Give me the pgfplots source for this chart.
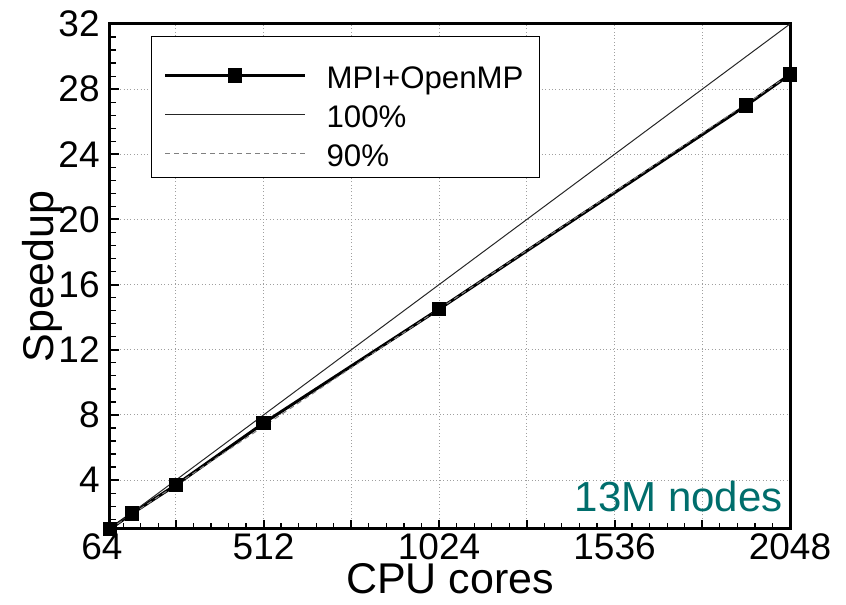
\documentclass[border=0pt]{standalone}
\usepackage{pgfplots}
\pgfplotsset{compat=1.18}
\usepackage{fontspec}
\setmainfont{Liberation Sans}
\definecolor{annot}{RGB}{0,110,108}
\pgfplotsset{
  long legend/.style={legend image code/.code={\draw[mark repeat=2,mark phase=2,##1] plot coordinates {(0pt,0pt) (35pt,0pt) (70pt,0pt)};}},
  tall legend/.style={legend image code/.code={\path[draw=none,fill=none] (0pt,0pt) -- (0pt,17.5pt);
    \draw[mark repeat=2,mark phase=2,##1] plot coordinates {(0pt,0pt) (35pt,0pt) (70pt,0pt)};}},
}
\begin{document}
\begin{tikzpicture}
\begin{axis}[
  at={(0pt,0pt)}, anchor=south west,
  scale only axis, width=340pt, height=252.5pt,
  xmin=64, xmax=2048, ymin=1, ymax=32,
  xtick={64,256,512,768,1024,1280,1536,1792,2048},
  xticklabels={64\hspace*{8pt},,512,,1024,,1536,,2048},
  minor xtick={102.4,153.6,204.8,307.2,358.4,409.6,460.8,563.2,614.4,665.6,716.8,819.2,870.4,921.6,972.8,1075.2,1126.4,1177.6,1228.8,1331.2,1382.4,1433.6,1484.8,1587.2,1638.4,1689.6,1740.8,1843.2,1894.4,1945.6,1996.8},
  ytick={4,8,12,16,20,24,28,32},
  yticklabels={4,8,12,16,20,24,28,32},
  minor ytick={1.6,2.4,3.2,4.8,5.6,6.4,7.2,8.8,9.6,10.4,11.2,12.8,13.6,14.4,15.2,16.8,17.6,18.4,19.2,20.8,21.6,22.4,23.2,24.8,25.6,26.4,27.2,28.8,29.6,30.4,31.2},
  tick pos=left,
  every tick/.append style={black},
  every major tick/.append style={line width=1pt},
  every minor tick/.append style={line width=0.6pt},
  axis line style={line width=1.5pt},
  xmajorgrids, ymajorgrids,
  major grid style={dash pattern=on 0.5pt off 1.2pt, gray!75, line width=0.5pt},
  tick label style={font=\fontsize{18.5}{20}\selectfont},
  label style={font=\fontsize{21.5}{24}\selectfont},
  xticklabel style={inner sep=0pt, yshift=-2pt},
  yticklabel style={inner sep=0pt, xshift=-5pt},
  xlabel={CPU cores}, ylabel={Speedup},
  xlabel style={at={(axis description cs:0.5,-0.128)}, anchor=base, inner sep=0pt},
  ylabel style={at={(axis description cs:-0.0838,0.5)}, anchor=base, inner sep=0pt},
  legend style={at={(0.0603,0.976)}, anchor=north west, draw=black, line width=0.6pt,
    fill=white, font=\fontsize{15.6}{18}\selectfont, inner xsep=6pt, inner ysep=2pt,
    row sep=0pt, column sep=8pt,
    cells={anchor=west, inner xsep=0pt, inner ysep=0.25pt}},
  long legend,
]
\addplot[black, line width=1.5pt, mark=square*, mark size=2.9pt, mark options={solid}, tall legend]
  coordinates {(64,1) (128,1.95) (256,3.7) (512,7.5) (1024,14.5) (1920,27.0) (2048,28.9)};
\addlegendentry{\rule[-2.5pt]{0pt}{16.5pt}MPI+OpenMP}
\addplot[black!85, line width=0.5pt]
  coordinates {(64,1) (2048,32)};
\addlegendentry{\rule[-2.5pt]{0pt}{16.5pt}100\%}
\addplot[gray, line width=0.5pt, dash pattern=on 2.5pt off 2pt]
  coordinates {(64,1) (2048,28.9)};
\addlegendentry{\rule[-2.5pt]{0pt}{16.5pt}90\%}
\node[anchor=base east, inner sep=0pt, text=annot, font=\fontsize{21}{24}\selectfont]
  at (rel axis cs:0.9897,0.0337) {13M nodes};
\end{axis}
\path (-55pt,-38pt) rectangle (368pt,264.5pt);
\end{tikzpicture}
\end{document}
